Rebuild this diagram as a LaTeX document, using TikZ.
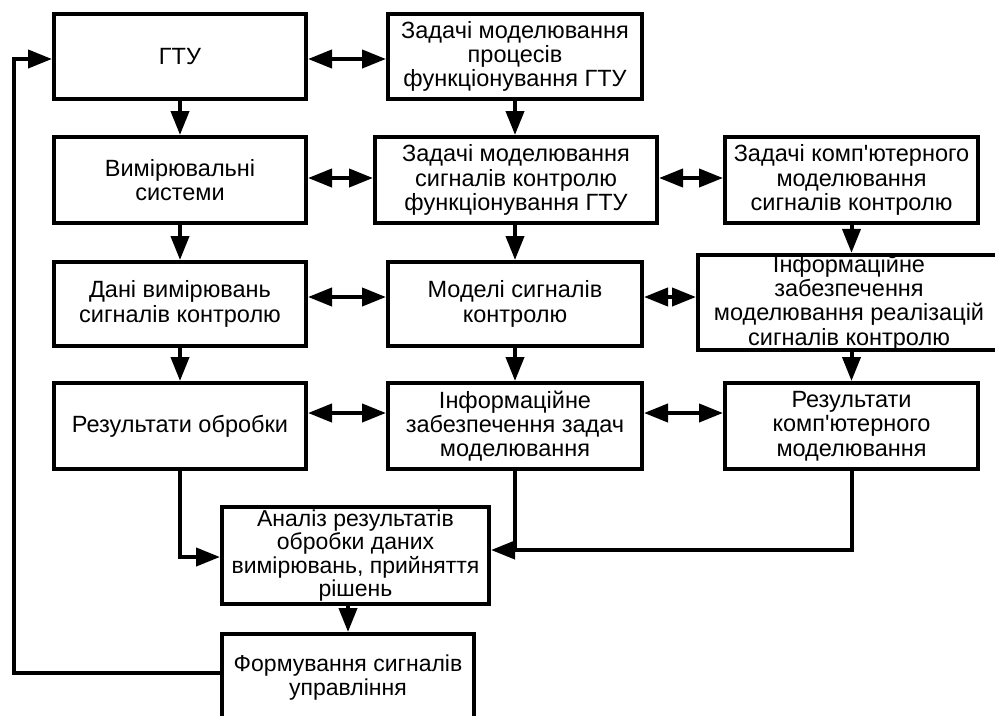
\documentclass[tikz,border=0pt]{standalone}
\usepackage{fontspec}
\setmainfont{Liberation Sans}[Ligatures=TeXOff]
\usetikzlibrary{arrows.meta}
\begin{document}
\begin{tikzpicture}[x=1pt,y=-1pt,
  box/.style={draw, line width=4pt, rectangle, inner sep=0pt, align=center,
    font=\fontsize{23.5}{24.3}\selectfont},
  sbox/.style={box, font=\fontsize{23}{23.5}\selectfont},
  conn/.style={line width=4pt},
  tip/.tip={Triangle[length=24pt,width=18pt]},
  arr/.style={conn, -tip},
  darr/.style={conn, tip-tip}]
\useasboundingbox (0,0) rectangle (995,715);

% boxes
\node[box, minimum width=252pt, minimum height=85pt] (gtu) at (180,56.5) {ГТУ};
\node[box, minimum width=254pt, minimum height=85pt] (zp) at (515,56.5) {Задачі моделювання\\процесів\\функціонування ГТУ};
\node[box, minimum width=252pt, minimum height=86pt] (vs) at (180,180) {Вимірювальні\\системи};
\node[box, minimum width=282pt, minimum height=86pt] (zs) at (516,180) {Задачі моделювання\\сигналів контролю\\функціонування ГТУ};
\node[box, minimum width=253pt, minimum height=86pt] (zk) at (851.5,180) {Задачі комп'ютерного\\моделювання\\сигналів контролю};
\node[box, minimum width=252pt, minimum height=84pt] (dv) at (180,304) {Дані вимірювань\\сигналів контролю};
\node[box, minimum width=254pt, minimum height=84pt] (ms) at (515,304) {Моделі сигналів\\контролю};
\node[box, minimum width=302pt, minimum height=91pt] (ip) at (849,302.5) {Інформаційне\\забезпечення\\моделювання реалізацій\\сигналів контролю};
\node[box, minimum width=252pt, minimum height=86pt] (ro) at (180,426) {Результати обробки};
\node[box, minimum width=254pt, minimum height=86pt] (iz) at (515,426) {Інформаційне\\забезпечення задач\\моделювання};
\node[box, minimum width=253pt, minimum height=86pt] (rk) at (851.5,426) {Результати\\комп'ютерного\\моделювання};
\node[sbox, minimum width=267pt, minimum height=97pt] (an) at (355.5,555.5) {Аналіз результатів\\обробки даних\\вимірювань, прийняття\\рішень};
\node[sbox, minimum width=252pt, minimum height=87pt] (fs) at (348,677.5) {Формування сигналів\\управління};

% helper coordinates
\coordinate (r1) at (0,59);
\coordinate (r2) at (0,178);
\coordinate (r3) at (0,297);
\coordinate (r4) at (0,413);
\coordinate (la) at (0,557);
\coordinate (ra) at (0,550);
\coordinate (fb) at (0,673);
\coordinate (lx) at (14,0);
\coordinate (ax) at (348,0);

% horizontal double arrows
\draw[darr] (gtu.east |- r1) -- (zp.west |- r1);
\draw[darr] (vs.east |- r2) -- (zs.west |- r2);
\draw[darr] (zs.east |- r2) -- (zk.west |- r2);
\draw[darr] (dv.east |- r3) -- (ms.west |- r3);
\draw[darr] (ms.east |- r3) -- (ip.west |- r3);
\draw[darr] (ro.east |- r4) -- (iz.west |- r4);
\draw[darr] (iz.east |- r4) -- (rk.west |- r4);

% vertical arrows
\draw[arr] (gtu.south) -- (vs.north);
\draw[arr] (vs.south) -- (dv.north);
\draw[arr] (dv.south) -- (ro.north);
\draw[arr] (zp.south) -- (zp.south |- zs.north);
\draw[arr] (zp.south |- zs.south) -- (zp.south |- ms.north);
\draw[arr] (ms.south) -- (iz.north);
\draw[arr] (zk.south) -- (zk.south |- ip.north);
\draw[arr] (zk.south |- ip.south) -- (rk.north);

% to analysis
\draw[arr] (ro.south) -- (ro.south |- la) -- (an.west |- la);
\draw[arr] (rk.south) -- (rk.south |- ra) -- (an.east |- ra);
\draw[conn] (iz.south) -- (iz.south |- ra);
\draw[arr] (an.south -| ax) -- (fs.north -| ax);

% feedback
\draw[arr] (fs.west |- fb) -- (lx |- fb) -- (lx |- r1) -- (gtu.west |- r1);
\end{tikzpicture}
\end{document}
